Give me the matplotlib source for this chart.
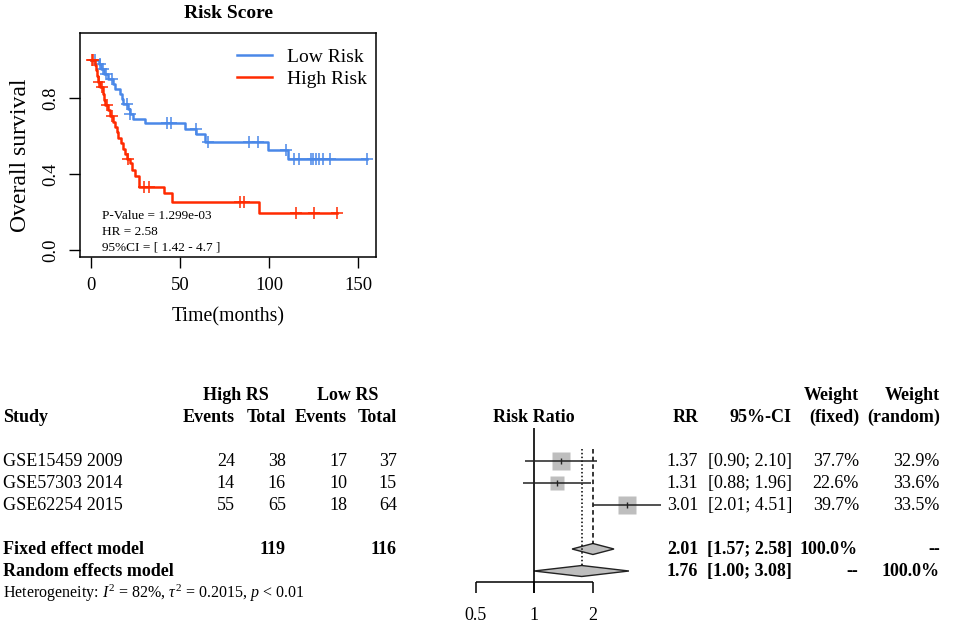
import numpy as np
import matplotlib
matplotlib.use("Agg")
import matplotlib.pyplot as plt
from matplotlib.patches import Polygon

plt.rcParams['font.family'] = ['Liberation Serif', 'DejaVu Serif']
plt.rcParams['mathtext.fontset'] = 'custom'
plt.rcParams['mathtext.rm'] = 'Liberation Serif'
plt.rcParams['mathtext.it'] = 'Liberation Serif:italic'
plt.rcParams['mathtext.bf'] = 'Liberation Serif:bold'

# --- KM data ---
low_event_t = [4.9, 5.6, 7.5, 9.9, 12.7, 13.7, 16.5, 17.4, 18.3, 21.1, 22.1, 23.9, 30.5,
               52.6, 59.2, 63.8, 99.2, 110.5]
low_event_s = [0.979, 0.956, 0.93, 0.904, 0.877, 0.851, 0.825, 0.798, 0.772, 0.746, 0.719,
               0.693, 0.667, 0.637, 0.609, 0.57, 0.526, 0.477]
low_cens_t = [2.4, 5.2, 7.1, 8.5, 11.8, 20.2, 22.1, 42.7, 44.9, 59.0, 65.7, 88.8, 93.6,
              109.2, 113.8, 116.6, 123.2, 124.7, 126.0, 127.9, 130.3, 134.0, 154.7]

high_event_t = [2.4, 3.0, 3.6, 4.3, 5.2, 6.7, 7.5, 8.0, 9.9, 11.0, 12.7, 13.7, 14.6, 15.5,
                16.8, 18.0, 19.3, 20.5, 22.1, 23.0, 24.9, 26.8, 40.8, 45.5, 94.2]
high_event_s = [0.974, 0.947, 0.92, 0.886, 0.86, 0.825, 0.789, 0.763, 0.737, 0.705, 0.675,
                0.649, 0.623, 0.593, 0.565, 0.535, 0.505, 0.477, 0.456, 0.421, 0.389, 0.33,
                0.298, 0.254, 0.193]
high_cens_t = [0.6, 1.3, 4.7, 6.5, 9.0, 11.8, 21.1, 29.6, 32.4, 83.5, 85.7, 114.8, 125.4, 137.8]

km_xticks = [0, 50, 100, 150]
km_yticks = [0.0, 0.4, 0.8]
km_notes = ["P-Value = 1.299e-03", "HR = 2.58", "95%CI = [ 1.42 - 4.7 ]"]

# --- meta-analysis data ---
studies = ["GSE15459 2009", "GSE57303 2014", "GSE62254 2015"]
high_events = [24, 14, 55]
high_total = [38, 16, 65]
low_events = [17, 10, 18]
low_total = [37, 15, 64]
rr = [1.37, 1.31, 3.01]
rr_lo = [0.90, 0.88, 2.01]
rr_hi = [2.10, 1.96, 4.51]
w_fixed = [37.7, 22.6, 39.7]
w_random = [32.9, 33.6, 33.5]
fixed_est = (2.01, 1.57, 2.58)
random_est = (1.76, 1.00, 3.08)
rr_ticks = [0.5, 1, 2]

W, H = 957, 624
fig = plt.figure(figsize=(W / 100, H / 100), dpi=100)


def px_box(l, t, r, b):
    return [l / W, 1 - b / H, (r - l) / W, (b - t) / H]


# ================= KM plot =================
ax = fig.add_axes(px_box(80, 32.7, 376, 257.3))
blue, red = '#4a88e8', '#ff2a00'


def km_draw(ev_t, ev_s, cens_t, color, label):
    xs = np.r_[0, ev_t, max(cens_t)]
    ys = np.r_[1.0, ev_s, ev_s[-1]]
    line, = ax.plot(xs, ys, drawstyle='steps-post', color=color, lw=1.8, label=label)
    lev = np.r_[1.0, ev_s]
    cs = lev[np.searchsorted(ev_t, cens_t, side='right')]
    ax.plot(cens_t, cs, ls='none', marker='+', ms=9, mew=1.1, color=color)
    return line


h1 = km_draw(low_event_t, low_event_s, low_cens_t, blue, "Low Risk")
h2 = km_draw(high_event_t, high_event_s, high_cens_t, red, "High Risk")

ax.set_xlim(-6.0, 159.9)
ax.set_ylim(-0.039, 1.146)
ax.set_xticks(km_xticks)
ax.set_yticks(km_yticks)
ax.set_yticklabels([f"{v:.1f}" for v in km_yticks])
ax.tick_params(length=8, width=1, labelsize=13.4, pad=6)
ax.tick_params(axis='y', labelrotation=90, pad=7)
plt.setp(ax.get_yticklabels(), va='center')
for s in ax.spines.values():
    s.set_linewidth(1.1)

ax.text(0.5, 1.087, "Risk Score", transform=ax.transAxes, ha='center', va='center',
        fontsize=14, fontweight='bold')
ax.text(0.5, -0.265, "Time(months)", transform=ax.transAxes, ha='center', va='center',
        fontsize=14.3)
ax.text(-0.2, 0.4555, "Overall survival", transform=ax.transAxes, ha='center',
        va='center', rotation=90, fontsize=17)
for i, note in enumerate(km_notes):
    ax.text(6.3, 0.178 - i * 0.082, note, ha='left', va='center', fontsize=9.5)

ax.legend(handles=[h1, h2], loc='upper left', bbox_to_anchor=(0.530, 0.93),
          frameon=False, fontsize=14, borderpad=0, borderaxespad=0,
          handlelength=1.8, handletextpad=0.77, labelspacing=0.2)

# ================= forest table =================
row_lo, row_hi = 10.409, -1
tab = fig.add_axes(px_box(0, 373, W, H))
tab.set_xlim(0, W)
tab.set_ylim(row_lo, row_hi)
tab.axis('off')

fs = 13
bold = dict(fontsize=fs, fontweight='bold', va='center')
norm = dict(fontsize=fs, va='center')

tab.text(236, 0, "High RS", ha='center', **bold)
tab.text(348, 0, "Low RS", ha='center', **bold)
tab.text(3, 1, "Study", ha='left', **bold)
for x, lab in zip([235, 286, 347, 397], ["Events", "Total", "Events", "Total"]):
    tab.text(x, 1, lab, ha='right', **bold)
tab.text(699, 1, "RR", ha='right', **bold)
tab.text(792, 1, "95%-CI", ha='right', **bold)
tab.text(859, 0, "Weight", ha='right', **bold)
tab.text(859, 1, "(fixed)", ha='right', **bold)
tab.text(940, 0, "Weight", ha='right', **bold)
tab.text(940, 1, "(random)", ha='right', **bold)

study_rows = [3, 4, 5]
for i, r in enumerate(study_rows):
    tab.text(3, r, studies[i], ha='left', **norm)
    tab.text(235, r, str(high_events[i]), ha='right', **norm)
    tab.text(286, r, str(high_total[i]), ha='right', **norm)
    tab.text(347, r, str(low_events[i]), ha='right', **norm)
    tab.text(397, r, str(low_total[i]), ha='right', **norm)
    tab.text(698, r, f"{rr[i]:.2f}", ha='right', **norm)
    tab.text(792, r, f"[{rr_lo[i]:.2f}; {rr_hi[i]:.2f}]", ha='right', **norm)
    tab.text(859, r, f"{w_fixed[i]:.1f}%", ha='right', **norm)
    tab.text(940, r, f"{w_random[i]:.1f}%", ha='right', **norm)

fixed_row, random_row = 7, 8
tab.text(3, fixed_row, "Fixed effect model", ha='left', **bold)
tab.text(286, fixed_row, str(sum(high_total)), ha='right', **bold)
tab.text(397, fixed_row, str(sum(low_total)), ha='right', **bold)
tab.text(3, random_row, "Random effects model", ha='left', **bold)
for r, (est, lo, hi), wf, wr in [(fixed_row, fixed_est, "100.0%", "--"),
                                 (random_row, random_est, "--", "100.0%")]:
    tab.text(698, r, f"{est:.2f}", ha='right', **bold)
    tab.text(792, r, f"[{lo:.2f}; {hi:.2f}]", ha='right', **bold)
    tab.text(858, r, wf, ha='right', **bold)
    tab.text(940, r, wr, ha='right', **bold)
tab.text(3, 9, r"Heterogeneity: $I^2$ = 82%, $\tau^2$ = 0.2015, $p$ < 0.01",
         ha='left', va='center', fontsize=11.5)

# ================= forest graph =================
fax = fig.add_axes(px_box(460, 373, 700, H))
fax.set_xscale('log', base=2)
fax.set_xlim(2 ** ((460 - 534) / 58.5), 2 ** ((700 - 534) / 58.5))
fax.set_ylim(row_lo, row_hi)
fax.axis('off')

fax.text(1, 1, "Risk Ratio", ha='center', **bold)
fax.vlines(1, 1.5, 9.0, color='black', lw=1.2)
fax.vlines(fixed_est[0], 2.45, fixed_row - 0.25, color='black', lw=1.1, linestyles=(0, (3, 2)))
fax.vlines(random_est[0], 2.45, random_row - 0.25, color='black', lw=1.1, linestyles=(0, (1, 1.5)))

wmax = max(w_fixed)
for i, r in enumerate(study_rows):
    fax.plot(rr[i], r, marker='s', ms=13.2 * np.sqrt(w_fixed[i] / wmax), color='#bebebe',
             mec='none', ls='none')
    fax.hlines(r, rr_lo[i], rr_hi[i], color='#222222', lw=1.1)
    fax.vlines(rr[i], r - 0.12, r + 0.12, color='#222222', lw=1.0)

for r, (est, lo, hi) in [(fixed_row, fixed_est), (random_row, random_est)]:
    fax.add_patch(Polygon([(lo, r), (est, r - 0.25), (hi, r), (est, r + 0.25)],
                          closed=True, facecolor='#bebebe', edgecolor='#222222', lw=1.0))

axis_row = 8.5
fax.hlines(axis_row, min(rr_ticks), max(rr_ticks), color='black', lw=1.1)
fax.vlines(rr_ticks, axis_row, 9.0, color='black', lw=1.1)
for t in rr_ticks:
    fax.text(t, 10.0, f"{t:g}", ha='center', va='center', fontsize=fs)

fig.savefig("out.png", dpi=100)
